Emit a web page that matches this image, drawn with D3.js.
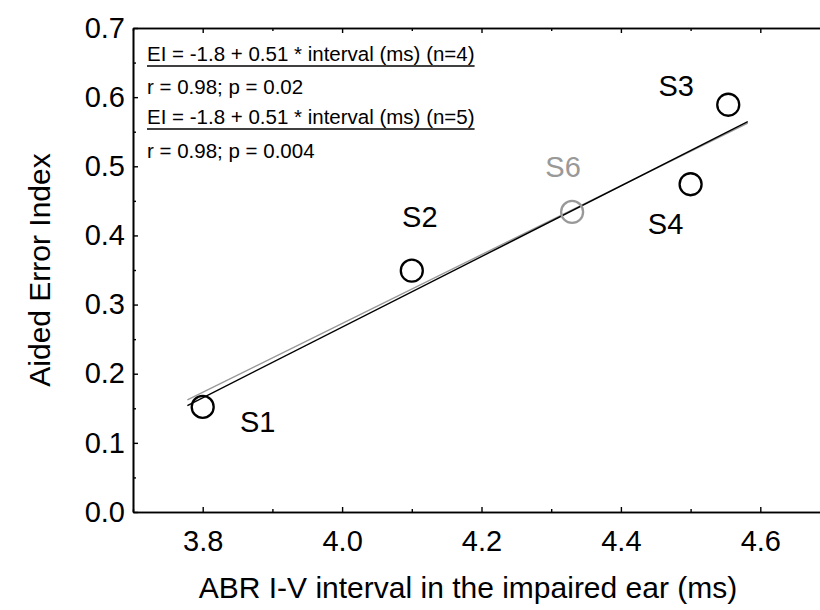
<!DOCTYPE html>
<html>
<head>
<meta charset="utf-8">
<script src="https://cdn.jsdelivr.net/npm/d3@7"></script>
<style>
  body { margin: 0; background: #fff; }
  svg { display: block; }
  text { font-family: "Liberation Sans", Arial, sans-serif; fill: #000; }
</style>
</head>
<body>
<svg id="chart" width="820" height="610"></svg>
<script>
// data
const subjects = ["S1", "S2", "S3", "S4", "S6"];
const abrInterval = [3.8, 4.1, 4.554, 4.5, 4.33];
const errorIndex = [0.152, 0.349, 0.589, 0.474, 0.434];
const inFirstFit = [true, true, true, true, false];

const xTicks = [3.8, 4.0, 4.2, 4.4, 4.6];
const xMinor = [3.7, 3.9, 4.1, 4.3, 4.5, 4.7];
const yTicks = [0.0, 0.1, 0.2, 0.3, 0.4, 0.5, 0.6, 0.7];
const yMinor = [0.05, 0.15, 0.25, 0.35, 0.45, 0.55, 0.65];

// regression lines (endpoints in data units)
const fitN4 = [[3.778, 0.154], [4.582, 0.5645]];
const fitN5 = [[3.778, 0.162], [4.582, 0.5625]];

const fitText = [
  "EI = -1.8 + 0.51 * interval (ms) (n=4)",
  "r = 0.98; p = 0.02",
  "EI = -1.8 + 0.51 * interval (ms) (n=5)",
  "r = 0.98; p = 0.004"
];

const points = subjects.map((s, i) => ({ name: s, x: abrInterval[i], y: errorIndex[i], first: inFirstFit[i] }));

// label placement relative to each circle (px)
const labelOffset = {
  S1: [55, 25], S2: [8, -44], S3: [-52, -9], S4: [-25, 50], S6: [-9, -35]
};

const gray = "#999";
const tickFont = 29;
const titleFont = 30;

const svg = d3.select("#chart");
const x = d3.scaleLinear().domain([3.7, 4.7]).range([133, 830]);
const y = d3.scaleLinear().domain([0, 0.7]).range([512, 28]);

function styleAxis(g) {
  g.select(".domain").attr("stroke", "#000").attr("stroke-width", 1.6);
  g.selectAll(".tick line").attr("stroke", "#000").attr("stroke-width", 1.4);
  g.selectAll(".tick text")
    .attr("font-size", tickFont)
    .attr("font-family", "'Liberation Sans', Arial, sans-serif");
}

// bottom axis
svg.append("g")
  .attr("transform", `translate(0,${y(0)})`)
  .call(d3.axisBottom(x).tickValues(xTicks).tickFormat(d3.format(".1f")).tickSize(-5).tickSizeOuter(0).tickPadding(18))
  .call(styleAxis);
svg.append("g")
  .attr("transform", `translate(0,${y(0)})`)
  .call(d3.axisBottom(x).tickValues(xMinor).tickFormat("").tickSize(-3).tickSizeOuter(0))
  .call(styleAxis);

// top spine
svg.append("g")
  .attr("transform", `translate(0,${y(0.7)})`)
  .call(d3.axisTop(x).tickValues(xTicks).tickFormat("").tickSize(-5).tickSizeOuter(0))
  .call(styleAxis);
svg.append("g")
  .attr("transform", `translate(0,${y(0.7)})`)
  .call(d3.axisTop(x).tickValues(xMinor).tickFormat("").tickSize(-3).tickSizeOuter(0))
  .call(styleAxis);

// left axis
svg.append("g")
  .attr("transform", `translate(${x(3.7)},0)`)
  .call(d3.axisLeft(y).tickValues(yTicks).tickFormat(d3.format(".1f")).tickSize(-5).tickSizeOuter(0).tickPadding(8))
  .call(styleAxis);
svg.append("g")
  .attr("transform", `translate(${x(3.7)},0)`)
  .call(d3.axisLeft(y).tickValues(yMinor).tickFormat("").tickSize(-3).tickSizeOuter(0))
  .call(styleAxis);

// axis titles
svg.append("text")
  .attr("x", 468)
  .attr("y", 598)
  .attr("text-anchor", "middle")
  .attr("font-size", titleFont)
  .text("ABR I-V interval in the impaired ear (ms)");
svg.append("text")
  .attr("transform", `translate(50,${(y(0) + y(0.7)) / 2}) rotate(-90)`)
  .attr("text-anchor", "middle")
  .attr("font-size", titleFont)
  .text("Aided Error Index");

// fit lines
const line = d3.line().x(d => x(d[0])).y(d => y(d[1]));
svg.append("path").datum(fitN5).attr("d", line).attr("fill", "none").attr("stroke", gray).attr("stroke-width", 1.4);
svg.append("path").datum(fitN4).attr("d", line).attr("fill", "none").attr("stroke", "#000").attr("stroke-width", 1.4);

// points
svg.selectAll(".pt")
  .data(points)
  .join("circle")
  .attr("class", "pt")
  .attr("cx", d => x(d.x))
  .attr("cy", d => y(d.y))
  .attr("r", 11)
  .attr("fill", "none")
  .attr("stroke", d => d.first ? "#000" : gray)
  .attr("stroke-width", 2.3);

svg.selectAll(".lbl")
  .data(points)
  .join("text")
  .attr("class", "lbl")
  .attr("x", d => x(d.x) + labelOffset[d.name][0])
  .attr("y", d => y(d.y) + labelOffset[d.name][1])
  .attr("text-anchor", "middle")
  .attr("font-size", tickFont)
  .style("fill", d => d.first ? "#000" : gray)
  .text(d => d.name);

// regression text block
const baselines = [61, 94, 124, 158];
fitText.forEach((t, i) => {
  const txt = svg.append("text")
    .attr("x", 147)
    .attr("y", baselines[i])
    .attr("font-size", 20.5)
    .text(t);
  if (i % 2 === 0) {
    const w = txt.node().getComputedTextLength();
    svg.append("line")
      .attr("x1", 147).attr("x2", 147 + w)
      .attr("y1", baselines[i] + 5).attr("y2", baselines[i] + 5)
      .attr("stroke", "#000").attr("stroke-width", 1.5);
  }
});
</script>
</body>
</html>
